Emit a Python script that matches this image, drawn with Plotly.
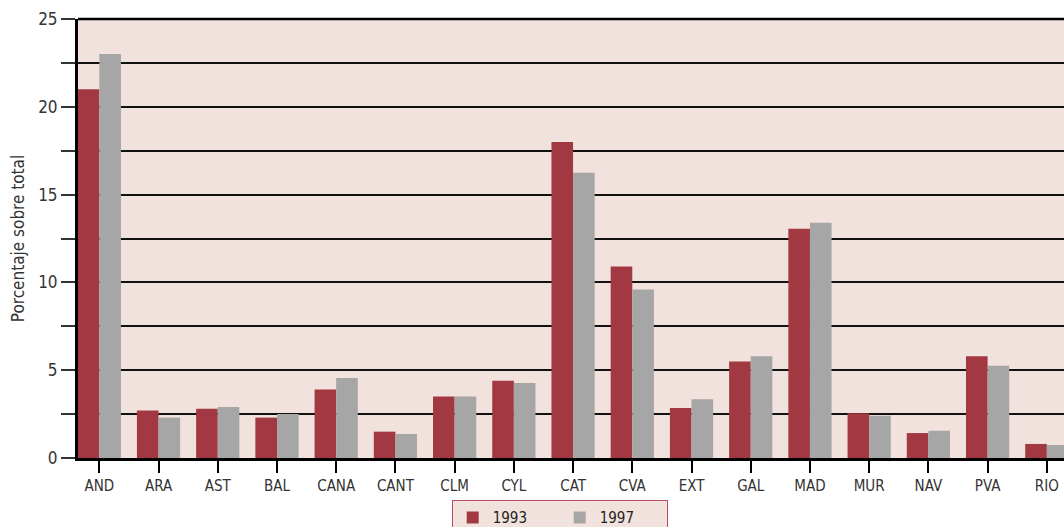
import plotly.graph_objects as go

regions = ["AND", "ARA", "AST", "BAL", "CANA", "CANT", "CLM", "CYL", "CAT",
           "CVA", "EXT", "GAL", "MAD", "MUR", "NAV", "PVA", "RIO"]
v1993 = [21.0, 2.7, 2.8, 2.3, 3.9, 1.5, 3.5, 4.4, 18.0,
         10.9, 2.85, 5.5, 13.05, 2.55, 1.42, 5.8, 0.8]
v1997 = [23.0, 2.3, 2.9, 2.5, 4.55, 1.37, 3.5, 4.27, 16.25,
         9.6, 3.35, 5.8, 13.4, 2.4, 1.55, 5.25, 0.74]
y_ticks = [0, 5, 10, 15, 20, 25]

FONT = "Liberation Sans Narrow, DejaVu Sans Condensed, Arial Narrow, sans-serif"
RED = "#A23842"
GRAY = "#A6A6A6"
BG = "#F2E2DD"

fig = go.Figure()
fig.add_trace(go.Bar(x=regions, y=v1993, name="1993", marker_color=RED, marker_line_width=0))
fig.add_trace(go.Bar(x=regions, y=v1997, name="1997", marker_color=GRAY, marker_line_width=0))

fig.update_layout(
    width=1064, height=527,
    margin=dict(l=78, r=0, t=19, b=69, autoexpand=False),
    paper_bgcolor="white",
    plot_bgcolor=BG,
    barmode="group",
    bargap=0.27,
    bargroupgap=0,
    font=dict(family=FONT, size=15, color="#333333"),
    legend=dict(
        orientation="h",
        x=0.379, y=-0.096, xanchor="left", yanchor="top",
        bgcolor=BG, bordercolor="#B5505A", borderwidth=1,
        font=dict(size=15, color="#222222"),
        entrywidth=62, entrywidthmode="pixels",
        itemsizing="constant", valign="top",
    ),
    xaxis=dict(
        range=[-0.36, 16.29],
        automargin=False,
        showline=True, linecolor="black", linewidth=3,
        ticks="outside", ticklen=12, tickwidth=1.5, tickcolor="black",
        showgrid=False, zeroline=False,
        tickfont=dict(size=15, color="#333333"),
    ),
    yaxis=dict(
        range=[0, 25],
        automargin=False,
        tickvals=y_ticks,
        showline=True, linecolor="black", linewidth=3,
        ticks="outside", ticklen=14, tickwidth=1.5, tickcolor="#333333",
        showgrid=True, gridcolor="#111111", gridwidth=1.5,
        zeroline=False,
        minor=dict(dtick=2.5, tick0=0, ticks="outside", ticklen=14, tickwidth=1.5,
                   tickcolor="#333333", showgrid=True, gridcolor="#111111", gridwidth=1.5),
        tickfont=dict(size=17, color="#333333"),
        title=dict(text="Porcentaje sobre total", font=dict(size=17, color="#333333"), standoff=10),
    ),
)

fig.add_shape(type="line", xref="paper", yref="paper", x0=0, x1=1, y0=1, y1=1,
              line=dict(color="black", width=2.5))

fig.write_html("out.html", config={"displayModeBar": False},
               post_script="document.body.style.margin='0';document.body.style.overflow='hidden';")
